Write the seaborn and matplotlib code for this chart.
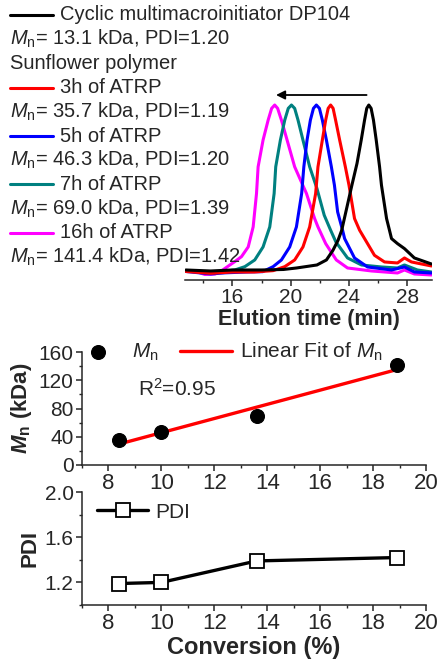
import numpy as np
import pandas as pd
import matplotlib
matplotlib.use("Agg")
import matplotlib.pyplot as plt
from matplotlib.lines import Line2D
import seaborn as sns

# GPC traces (elution time in min, normalised RI signal)
time_dp104 = [12.8, 14.5, 16.0, 18.0, 19.5, 20.4, 21.8, 22.45, 22.9, 23.25, 23.5, 24.2, 24.55,
              24.84, 25.07, 25.22, 25.36, 25.52, 25.68, 25.87, 26.1, 26.23, 26.58, 26.78, 26.92,
              27.33, 27.81, 28.49, 29.66]
sig_dp104 = [0.012, 0.006, 0.012, 0.012, 0.015, 0.024, 0.042, 0.072, 0.13, 0.19, 0.25, 0.52, 0.65,
             0.79, 0.91, 0.98, 1.0, 0.98, 0.91, 0.79, 0.63, 0.52, 0.32, 0.25, 0.20, 0.17, 0.14,
             0.084, 0.048]

time_3h = [12.8, 14.5, 16.0, 17.5, 18.79, 19.59, 20.27, 20.84, 21.30, 21.71, 21.87, 22.17, 22.40,
           22.57, 22.74, 22.91, 23.08, 23.36, 23.75, 24.0, 24.38, 24.73, 25.07, 25.75, 26.44,
           27.33, 27.81, 28.29, 29.66]
sig_3h = [0.003, -0.008, 0.0, 0.0, 0.008, 0.032, 0.072, 0.15, 0.27, 0.47, 0.63, 0.79, 0.91,
          0.98, 1.0, 0.98, 0.91, 0.79, 0.63, 0.52, 0.32, 0.25, 0.20, 0.10, 0.06, 0.054, 0.084,
          0.06, 0.036]

time_5h = [12.8, 14.5, 15.5, 17.0, 18.08, 18.79, 19.36, 19.93, 20.39, 20.75, 20.90, 21.12, 21.35,
           21.56, 21.76, 21.97, 22.17, 22.45, 22.79, 23.0, 23.22, 23.56, 23.70, 24.38, 25.27,
           26.92, 27.81, 28.49, 29.66]
sig_5h = [0.003, -0.012, -0.005, 0.0, 0.002, 0.032, 0.072, 0.15, 0.27, 0.47, 0.63, 0.79, 0.91,
          0.98, 1.0, 0.98, 0.91, 0.79, 0.63, 0.52, 0.36, 0.25, 0.20, 0.084, 0.03, 0.012, 0.03,
          0.0, -0.006]

time_7h = [12.8, 14.5, 15.5, 16.16, 16.85, 17.53, 18.10, 18.56, 18.86, 18.97, 19.29, 19.59, 19.83,
           20.05, 20.27, 20.50, 20.84, 21.30, 21.8, 22.3, 22.74, 23.1, 23.9, 24.86, 26.23, 27.33,
           27.81, 28.70, 29.66]
sig_7h = [0.006, -0.005, 0.005, 0.012, 0.032, 0.072, 0.15, 0.27, 0.47, 0.63, 0.79, 0.91, 0.98,
          1.0, 0.98, 0.91, 0.79, 0.63, 0.50, 0.34, 0.25, 0.18, 0.084, 0.042, 0.03, 0.024, 0.042,
          0.012, 0.0]

time_16h = [12.8, 13.6, 14.1, 14.8, 15.3, 15.82, 16.16, 16.62, 17.08, 17.42, 17.65, 17.76, 18.10,
            18.45, 18.69, 18.90, 19.10, 19.36, 19.75, 20.27, 21.08, 21.64, 21.87, 22.4, 23.13,
            23.90, 25.55, 27.33, 27.81, 28.49, 29.66]
sig_16h = [0.006, 0.0, -0.015, -0.012, 0.01, 0.042, 0.062, 0.092, 0.15, 0.27, 0.47, 0.63, 0.79,
           0.91, 0.98, 1.0, 0.98, 0.91, 0.79, 0.63, 0.47, 0.32, 0.27, 0.17, 0.072, 0.024, 0.006,
           -0.006, 0.012, -0.012, -0.018]

series_names = ["DP104", "3h", "5h", "7h", "16h"]
series_labels = ["Cyclic multimacroinitiator DP104", "3h of ATRP", "5h of ATRP",
                 "7h of ATRP", "16h of ATRP"]
series_mn = [13.1, 35.7, 46.3, 69.0, 141.4]
series_pdi = [1.20, 1.19, 1.20, 1.39, 1.42]
palette = {"DP104": "#000000", "3h": "#ff0000", "5h": "#0000ff", "7h": "#008080", "16h": "#ff00ff"}

# kinetics vs conversion
conversion = [8.4, 10.0, 13.6, 18.9]
mn_kda = [35.7, 46.3, 69.0, 141.4]
pdi = [1.19, 1.20, 1.39, 1.42]

arrow_from, arrow_to, arrow_level = 25.4, 18.8, 1.06

sns.set_style("ticks")
plt.rcParams["font.family"] = ["Liberation Sans", "DejaVu Sans"]
plt.rcParams["mathtext.fontset"] = "custom"
plt.rcParams["mathtext.rm"] = "Liberation Sans"
plt.rcParams["mathtext.it"] = "Liberation Sans:italic"
plt.rcParams["mathtext.bf"] = "Liberation Sans:bold"
plt.rcParams["mathtext.bfit"] = "Liberation Sans:italic:bold"
plt.rcParams["axes.linewidth"] = 1.1

traces = pd.concat([
    pd.DataFrame({"time": t, "signal": s, "sample": n})
    for t, s, n in [(time_16h, sig_16h, "16h"), (time_7h, sig_7h, "7h"), (time_5h, sig_5h, "5h"),
                    (time_3h, sig_3h, "3h"), (time_dp104, sig_dp104, "DP104")]
], ignore_index=True)

W, H = 447, 668
fig = plt.figure(figsize=(W / 100, H / 100), dpi=100)
ax_top = fig.add_axes([185 / W, 388 / H, 247 / W, 280 / H])
ax_mid = fig.add_axes([82 / W, 203 / H, 344 / W, 113 / H])
ax_bot = fig.add_axes([82 / W, 63 / H, 344 / W, 113 / H])

# --- top: GPC traces
sns.lineplot(data=traces, x="time", y="signal", hue="sample",
             hue_order=["16h", "7h", "5h", "3h", "DP104"], palette=palette,
             estimator=None, sort=False, lw=2.2, legend=False, ax=ax_top)
ax_top.annotate("", xy=(arrow_to, arrow_level), xytext=(arrow_from, arrow_level),
                arrowprops=dict(arrowstyle="-|>", color="black", lw=1.3, mutation_scale=13))
ax_top.set_xlim(12.74, 29.7)
ax_top.set_ylim(-0.048, 1.629)
ax_top.set_yticks([])
ax_top.set_ylabel("")
ax_top.set_xticks([16, 20, 24, 28])
ax_top.set_xticks([14, 18, 22, 26], minor=True)
ax_top.set_xlabel("Elution time (min)", fontsize=15.5, fontweight="bold", labelpad=1)
for side in ["left", "right", "top"]:
    ax_top.spines[side].set_visible(False)
ax_top.tick_params(axis="x", which="major", labelsize=15, length=4, width=1.1, pad=2)
ax_top.tick_params(axis="x", which="minor", length=2.5, width=1.0)

# legend block on the left of the traces
row_h = 24.2 / H
y0 = 1 - 15 / H
fs_leg = 14.5
fig.text(10 / W, y0 - 2 * row_h, "Sunflower polymer", fontsize=fs_leg, va="center", ha="left")
for k, (name, lab, mn, pd_) in enumerate(zip(series_names, series_labels, series_mn, series_pdi)):
    r = 0 if k == 0 else 2 * k + 1
    y = y0 - r * row_h
    fig.add_artist(Line2D([10 / W, 53 / W], [y, y], transform=fig.transFigure,
                          color=palette[name], lw=2.2))
    fig.text(60 / W, y, lab, fontsize=fs_leg, va="center", ha="left")
    fig.text(10 / W, y - row_h,
             rf"$\mathit{{M}}_\mathrm{{n}}$= {mn:.1f} kDa, PDI={pd_:.2f}",
             fontsize=fs_leg, va="center", ha="left")

# --- middle: Mn vs conversion
sns.scatterplot(x=conversion, y=mn_kda, color="black", s=100, edgecolor="black",
                label=r"$\mathit{M}_\mathrm{n}$", ax=ax_mid, zorder=3)
sns.regplot(x=conversion, y=mn_kda, scatter=False, ci=None, color="red",
            line_kws={"lw": 2.4}, label=r"Linear Fit of $\mathit{M}_\mathrm{n}$", ax=ax_mid)
ax_mid.set_xlim(7.06, 20)
ax_mid.set_ylim(0, 160)
ax_mid.set_xticks(np.arange(8, 21, 2))
ax_mid.set_xticks(np.arange(7, 21, 1), minor=True)
ax_mid.set_yticks([0, 40, 80, 120, 160])
ax_mid.set_yticks([20, 60, 100, 140], minor=True)
ax_mid.set_ylabel(r"$\mathbfit{M}_\mathbf{n}$ (kDa)", fontsize=16, fontweight="bold", labelpad=3)
ax_mid.text(9.1, 108, r"R$^2$=0.95", fontsize=15, va="center", ha="left")
ax_mid.legend(loc="center left", bbox_to_anchor=(-0.029, 1.0), ncol=2, frameon=False,
              fontsize=15, handlelength=2.5, handletextpad=0.4, columnspacing=1.0,
              borderpad=0, borderaxespad=0)

# --- bottom: PDI vs conversion
sns.lineplot(x=conversion, y=pdi, color="black", lw=2.4, marker="s", markersize=10,
             markerfacecolor="white", markeredgecolor="black", markeredgewidth=1.3,
             label="PDI", ax=ax_bot)
ax_bot.set_xlim(7.06, 20)
ax_bot.set_ylim(1.0, 2.0)
ax_bot.set_xticks(np.arange(8, 21, 2))
ax_bot.set_xticks(np.arange(7, 21, 1), minor=True)
ax_bot.set_yticks([1.2, 1.6, 2.0])
ax_bot.set_yticks([1.0, 1.4, 1.8], minor=True)
ax_bot.set_ylabel("PDI", fontsize=16, fontweight="bold", labelpad=3)
ax_bot.set_xlabel("Conversion (%)", fontsize=17, fontweight="bold", labelpad=1)
ax_bot.legend(loc="center left", bbox_to_anchor=(0.044, 0.823), frameon=False, fontsize=15,
              handlelength=2.45, handletextpad=0.35, borderpad=0, borderaxespad=0)

for ax in (ax_mid, ax_bot):
    sns.despine(ax=ax)
    ax.tick_params(axis="x", which="major", labelsize=16, length=4, width=1.1, pad=2)
    ax.tick_params(axis="y", which="major", labelsize=15, length=4, width=1.1, pad=2)
    ax.tick_params(which="minor", length=2.5, width=1.0)
ax_mid.set_xlabel("")

fig.savefig("out.png", dpi=100)
